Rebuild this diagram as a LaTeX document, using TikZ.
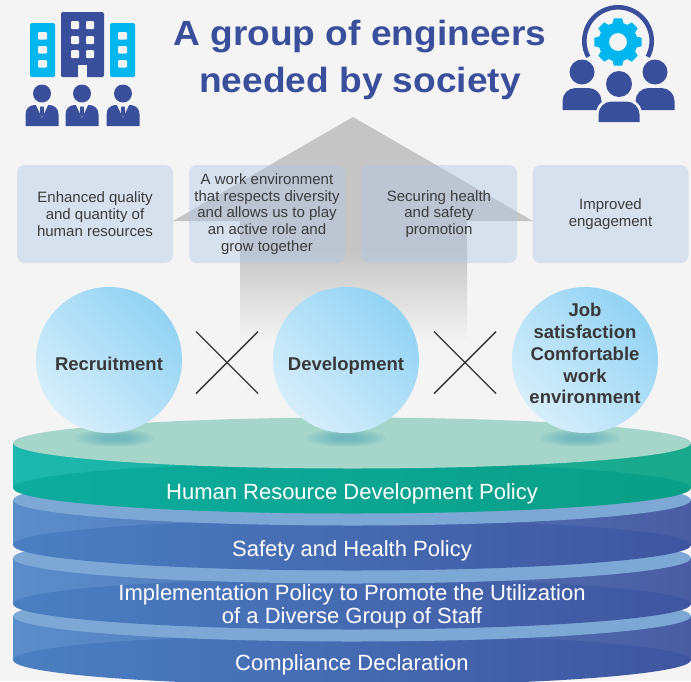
\documentclass[tikz,border=0pt]{standalone}
\usepackage{fontspec}
\setmainfont{Liberation Sans}
\newfontfamily\titlefont[FakeStretch=1.06]{Liberation Sans}
\usetikzlibrary{calc}

\definecolor{bg}{HTML}{F4F4F4}
\definecolor{navy}{HTML}{3A4F9C}
\definecolor{iconcyan}{HTML}{00B6EE}
\definecolor{arrowgray}{HTML}{C4C5C4}
\definecolor{boxfill}{HTML}{B1C5E5}
\definecolor{boxtext}{HTML}{3C3C3C}
\definecolor{circtext}{HTML}{383838}
\definecolor{circblue}{HTML}{93D3F4}
\definecolor{circlight}{HTML}{D6EEFB}
\definecolor{crossgray}{HTML}{333333}
\definecolor{mint}{HTML}{A6D6CA}
\definecolor{greenL}{HTML}{1CB7AD}
\definecolor{greenR}{HTML}{19A98B}
\definecolor{lensgreenL}{HTML}{0DAC9F}
\definecolor{lensgreenR}{HTML}{0A9F86}
\definecolor{blueface}{HTML}{7DA8D5}
\definecolor{blueL}{HTML}{5B8DCA}
\definecolor{blueR}{HTML}{4A5DA3}
\definecolor{lensblueL}{HTML}{4B7FC2}
\definecolor{lensblueR}{HTML}{3F55A0}
\definecolor{shadowteal}{HTML}{4BA3B5}

% one disc of the policy stack: top y, bottom y, face colour,
% side colours (left/right), lower lens colours (left/right)
\newcommand\discLayer[7]{%
  \shade[left color=#4, right color=#5] (13,#1) rectangle (691,#2);
  \shade[left color=#6, right color=#7] (352,#2) ellipse[x radius=339pt, y radius=25.5pt];
  \fill[#3] (352,#1) ellipse[x radius=339pt, y radius=25.5pt];
}

\begin{document}
\begin{tikzpicture}[x=1pt, y=-1pt,
  infobox/.style={fill=boxfill, fill opacity=0.42, text opacity=1, rounded corners=8pt,
    minimum width=156pt, minimum height=98pt, inner sep=0pt, align=center,
    text=boxtext, font=\fontsize{15}{16.7}\selectfont},
  bubble/.style={circle, minimum size=146pt, inner sep=0pt,
    top color=circblue, bottom color=circlight, shading angle=-45},
  bubbletext/.style={font=\bfseries\fontsize{18.5}{21.8}\selectfont, text=circtext,
    align=center, inner sep=0pt},
  layertext/.style={font=\fontsize{22}{23.3}\selectfont, text=white, align=center, inner sep=0pt},
  titletext/.style={font=\titlefont\bfseries\fontsize{35}{47}\selectfont, text=navy, inner sep=0pt},
  cross/.style={draw=crossgray, line width=1.4pt},
]
\useasboundingbox (0,0) rectangle (691,681);
\fill[bg] (0,0) rectangle (691,681);

% ---- upward arrow behind the boxes
\fill[arrowgray] (353,117) -- (533,221) -- (173,221) -- cycle;
\fill[arrowgray] (240,220) rectangle (467,250);
\shade[top color=arrowgray, bottom color=bg] (240,249.5) rectangle (467,342);

% ---- outcome boxes
\node[infobox] (q1) at (95,214)  {Enhanced quality\\and quantity of\\human resources};
\node[infobox] (q2) at (267,214) {A work environment\\that respects diversity\\and allows us to play\\an active role and\\grow together};
\node[infobox] (q3) at (439,214) {Securing health\\and safety\\promotion};
\node[infobox] (q4) at (610.5,214) {Improved\\engagement};

% ---- policy stack, bottom disc first
\discLayer{616}{660}{blueface}{blueL}{blueR}{lensblueL}{lensblueR}
\discLayer{558}{604}{blueface}{blueL}{blueR}{lensblueL}{lensblueR}
\discLayer{500}{545}{blueface}{blueL}{blueR}{lensblueL}{lensblueR}
\discLayer{443}{488}{mint}{greenL}{greenR}{lensgreenL}{lensgreenR}

\node[layertext, anchor=base] (p1) at (352,499) {Human Resource Development Policy};
\node[layertext, anchor=base] (p2) at (352,556.5) {Safety and Health Policy};
\node[layertext] (p3) at (352,606) {Implementation Policy to Promote the Utilization\\of a Diverse Group of Staff};
\node[layertext, anchor=base] (p4) at (352,670.5) {Compliance Declaration};

% ---- soft shadows of the spheres on the top disc
\foreach \cx in {115,346,580}{
  \foreach \k in {0,...,7}{
    \fill[shadowteal, opacity=0.09] (\cx,438) ellipse[x radius={40pt-4pt*\k}, y radius={9pt-0.9pt*\k}];
  }
}

% ---- the three spheres
\node[bubble] (rc) at (109,360) {};
\node[bubble] (dv) at (346,360) {};
\node[bubble] (js) at (585,360) {};
\node[bubbletext, anchor=base] (rct) at (109,370) {Recruitment};
\node[bubbletext, anchor=base] (dvt) at (346,370) {Development};
\node[bubbletext] (jst) at (585,353.6) {Job\\satisfaction\\Comfortable\\work\\environment};

% ---- multiplication signs between the spheres
\coordinate (x1) at (227,362.5);
\coordinate (x2) at (465,362.5);
\foreach \c in {x1,x2}{
  \draw[cross] ($(\c)+(-31,-31)$) -- ($(\c)+(31,31)$);
  \draw[cross] ($(\c)+(-31,31)$) -- ($(\c)+(31,-31)$);
}

% ---- title
\node[titletext, anchor=base] (t1) at (360,45) {A group of engineers};
\node[titletext, anchor=base] (t2) at (360,92) {needed by society};

% ---- company icon: buildings
\fill[iconcyan, rounded corners=1.5pt] (30,23) rectangle (55,77);
\fill[iconcyan, rounded corners=1.5pt] (110,23) rectangle (135,77);
\fill[navy, rounded corners=1.5pt] (61,12) rectangle (104,77);
\foreach \y in {32,46,60}{
  \fill[bg, rounded corners=1pt] (38,\y) rectangle (47,\y+7.5);
  \fill[bg, rounded corners=1pt] (118,\y) rectangle (127,\y+7.5);
}
\foreach \y in {21,36,50}{
  \fill[bg, rounded corners=1pt] (71,\y) rectangle (79,\y+8);
  \fill[bg, rounded corners=1pt] (86,\y) rectangle (94,\y+8);
}
\fill[bg] (78,65) rectangle (87,77.5);

% ---- company icon: staff in suits
\foreach \cx in {42,82,123}{
  \fill[navy] (\cx,93.5) circle[radius=9pt];
  \fill[navy] (\cx-16.5,126) {[rounded corners=9pt] -- (\cx-16.5,105) -- (\cx+16.5,105)} -- (\cx+16.5,126) -- cycle;
  \fill[bg] (\cx-6,105) -- (\cx+6,105) -- (\cx,118) -- cycle;
  \fill[navy] (\cx-1.8,106.5) -- (\cx+1.8,106.5) -- (\cx+2.3,114) -- (\cx,117.5) -- (\cx-2.3,114) -- cycle;
}

% ---- engineering icon: ring and gear
\coordinate (hub) at (618,42);
\draw[navy, line width=4.6pt] ($(618,41)+(-28:33.7pt)$) arc[start angle=-28, end angle=208, radius=33.7pt];
\fill[iconcyan, even odd rule] ($(hub)+(-16:19.5pt)$)
  \foreach \a in {0,45,...,315}{
    -- ($(hub)+(\a-16:19.5pt)$) -- ($(hub)+(\a-10:24pt)$) -- ($(hub)+(\a+10:24pt)$) -- ($(hub)+(\a+16:19.5pt)$)
  } -- cycle
  (hub) circle[radius=9pt];

% ---- engineering icon: team
\foreach \cx in {582,655}{
  \fill[navy] (\cx,72) circle[radius=12.5pt];
  \fill[navy] (\cx-19.5,110) {[rounded corners=13pt] -- (\cx-19.5,88) -- (\cx+19.5,88)} -- (\cx+19.5,110) -- cycle;
}
\fill[bg] (619,84) circle[radius=15pt];
\fill[bg] (596,123.5) {[rounded corners=15pt] -- (596,99) -- (642,99)} -- (642,123.5) -- cycle;
\fill[navy] (619,84) circle[radius=13pt];
\fill[navy] (598.5,122) {[rounded corners=13pt] -- (598.5,101.5) -- (639.5,101.5)} -- (639.5,122) -- cycle;
\end{tikzpicture}
\end{document}
